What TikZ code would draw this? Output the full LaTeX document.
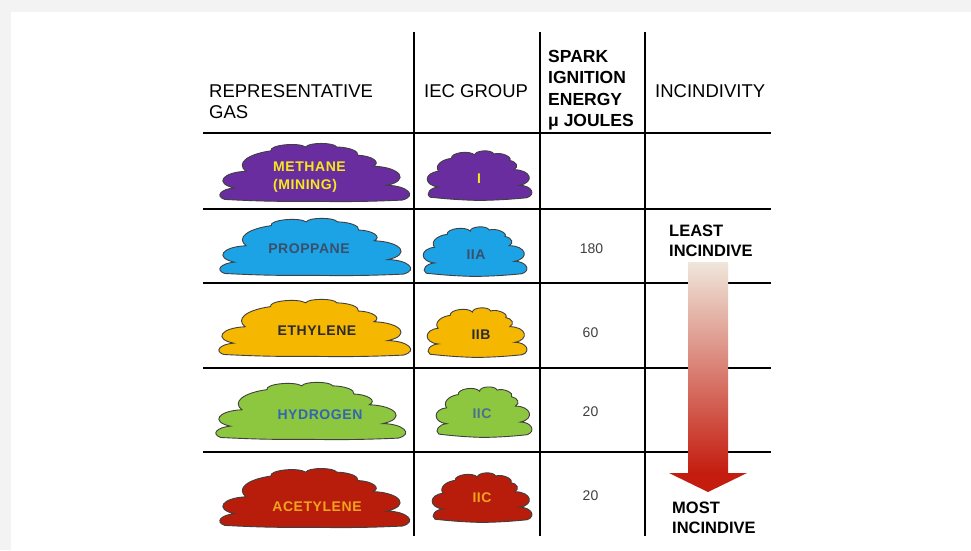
\documentclass[tikz,border=0pt]{standalone}
\usepackage{fontspec}
\setmainfont{Liberation Sans}
\newfontfamily\cloudfont[LetterSpace=4]{Liberation Sans}
\definecolor{purp}{HTML}{6A2DA0}
\definecolor{blu}{HTML}{1CA3E6}
\definecolor{orng}{HTML}{F5B700}
\definecolor{grn}{HTML}{8DC63F}
\definecolor{rd}{HTML}{B81C0A}
\definecolor{ylw}{HTML}{F7E81E}
\definecolor{slate}{HTML}{3B4F6B}
\definecolor{dk}{HTML}{2B2B2B}
\definecolor{hblue}{HTML}{3266B0}
\definecolor{iicblue}{HTML}{4A7090}
\definecolor{aorange}{HTML}{F2A31C}
\definecolor{arrowtop}{HTML}{EFE6DB}
\definecolor{arrowbot}{HTML}{C41C0E}
\definecolor{bggray}{HTML}{F3F3F3}
\newcommand\bigcloud[5]{%
  \begin{scope}[shift={(#1,#2)},xscale=#3/100,yscale=#4/100]
    \filldraw[fill=#5,cloudline] (4,96)
      to[bend left=60] (9,78)
      to[bend left=70,looseness=1.2] (15,52)
      to[bend left=45] (28,20)
      to[bend left=80,looseness=1.2] (46,14)
      to[bend left=80,looseness=1.2] (62,14)
      to[bend left=45] (73,27)
      to[bend left=60] (81,44)
      to[bend left=70,looseness=1.2] (88,74)
      to[bend left=70,looseness=1.1] (96,97)
      to[bend left=5] (50,99)
      to[bend left=5] (4,96) -- cycle;
  \end{scope}}
\newcommand\smallcloud[5]{%
  \begin{scope}[shift={(#1,#2)},xscale=#3/100,yscale=#4/100]
    \filldraw[fill=#5,cloudline] (4,93)
      to[bend left=60] (12,74)
      to[bend left=80,looseness=1.3] (12,45)
      to[bend left=50] (24,21)
      to[bend left=80,looseness=1.2] (46,15)
      to[bend left=85,looseness=1.3] (64,13)
      to[bend left=75] (79,25)
      to[bend left=60] (83,42)
      to[bend left=80,looseness=1.4] (88,71)
      to[bend left=75,looseness=1.2] (95,94)
      to[bend left=4] (50,99)
      to[bend left=4] (4,93) -- cycle;
  \end{scope}}
\begin{document}
\begin{tikzpicture}[x=1pt,y=-1pt,
  grid/.style={line width=2pt,black},
  cloudline/.style={draw=black!75,line width=0.9pt},
  hdr/.style={inner sep=0pt,anchor=north west,align=left,font=\fontsize{18.5}{21}\selectfont},
  hdrb/.style={inner sep=0pt,anchor=north west,align=left,font=\bfseries\fontsize{17.5}{21.5}\selectfont},
  side/.style={inner sep=0pt,anchor=north west,align=left,font=\bfseries\fontsize{16.5}{19.5}\selectfont},
  ctext/.style={inner sep=0pt,font=\cloudfont\bfseries\fontsize{14}{18}\selectfont},
  num/.style={inner sep=0pt,text=black!75,font=\fontsize{14}{16}\selectfont}]
\useasboundingbox (0,0) rectangle (971,550);
\fill[bggray] (0,0) rectangle (971,550);
\fill[white] (11,12) rectangle (971,550);
% grid
\foreach \gx in {414,540,644.5} \draw[grid] (\gx,32) -- (\gx,536);
\foreach \gy in {133,208.5,283,368,452} \draw[grid] (203,\gy) -- (771,\gy);
% headers
\node[hdr] (hgas) at (209,84.5) {REPRESENTATIVE\\GAS};
\node[hdr] (hiec) at (424,84.5) {IEC GROUP};
\node[hdrb] (hspark) at (548,50) {SPARK\\IGNITION\\ENERGY\\μ JOULES};
\node[hdr] (hinc) at (655,84.5) {INCINDIVITY};
% clouds
\bigcloud{217}{138}{193}{64}{purp}
\smallcloud{426}{147}{106}{54}{purp}
\bigcloud{217}{213}{194}{63}{blu}
\smallcloud{422}{223}{105}{54}{blu}
\bigcloud{216}{294}{195}{63}{orng}
\smallcloud{426}{304}{101}{54}{orng}
\bigcloud{213}{377}{193}{63}{grn}
\smallcloud{435}{383}{97}{55}{grn}
\bigcloud{217}{463}{193}{65}{rd}
\smallcloud{431}{469}{101}{54}{rd}
% cloud texts
\node[ctext,text=ylw,anchor=north west,align=left] (methane) at (273,162) {METHANE\\(MINING)};
\node[ctext,text=ylw] (gI) at (479,179) {I};
\node[ctext,text=slate] (propane) at (309,248.5) {PROPPANE};
\node[ctext,text=slate] (gIIA) at (476,255) {IIA};
\node[ctext,text=dk] (ethylene) at (317,331) {ETHYLENE};
\node[ctext,text=dk] (gIIB) at (481,335) {IIB};
\node[ctext,text=hblue] (hydrogen) at (320,415) {HYDROGEN};
\node[ctext,text=iicblue] (gIICa) at (482,414) {IIC};
\node[ctext,text=aorange] (acetylene) at (317,507) {ACETYLENE};
\node[ctext,text=aorange] (gIICb) at (482,498) {IIC};
% numbers
\node[num] (n180) at (591.5,249) {180};
\node[num] (n60) at (590.5,333) {60};
\node[num] (n20a) at (590.5,412) {20};
\node[num] (n20b) at (590.5,496) {20};
% arrow
\shade[top color=arrowtop,bottom color=arrowbot] (688,262) rectangle (728,474);
\fill[arrowbot] (669,473) -- (747,473) -- (708,492) -- cycle;
\node[side] (least) at (669,225) {LEAST\\INCINDIVE};
\node[side] (most) at (672,502) {MOST\\INCINDIVE};
\end{tikzpicture}
\end{document}
